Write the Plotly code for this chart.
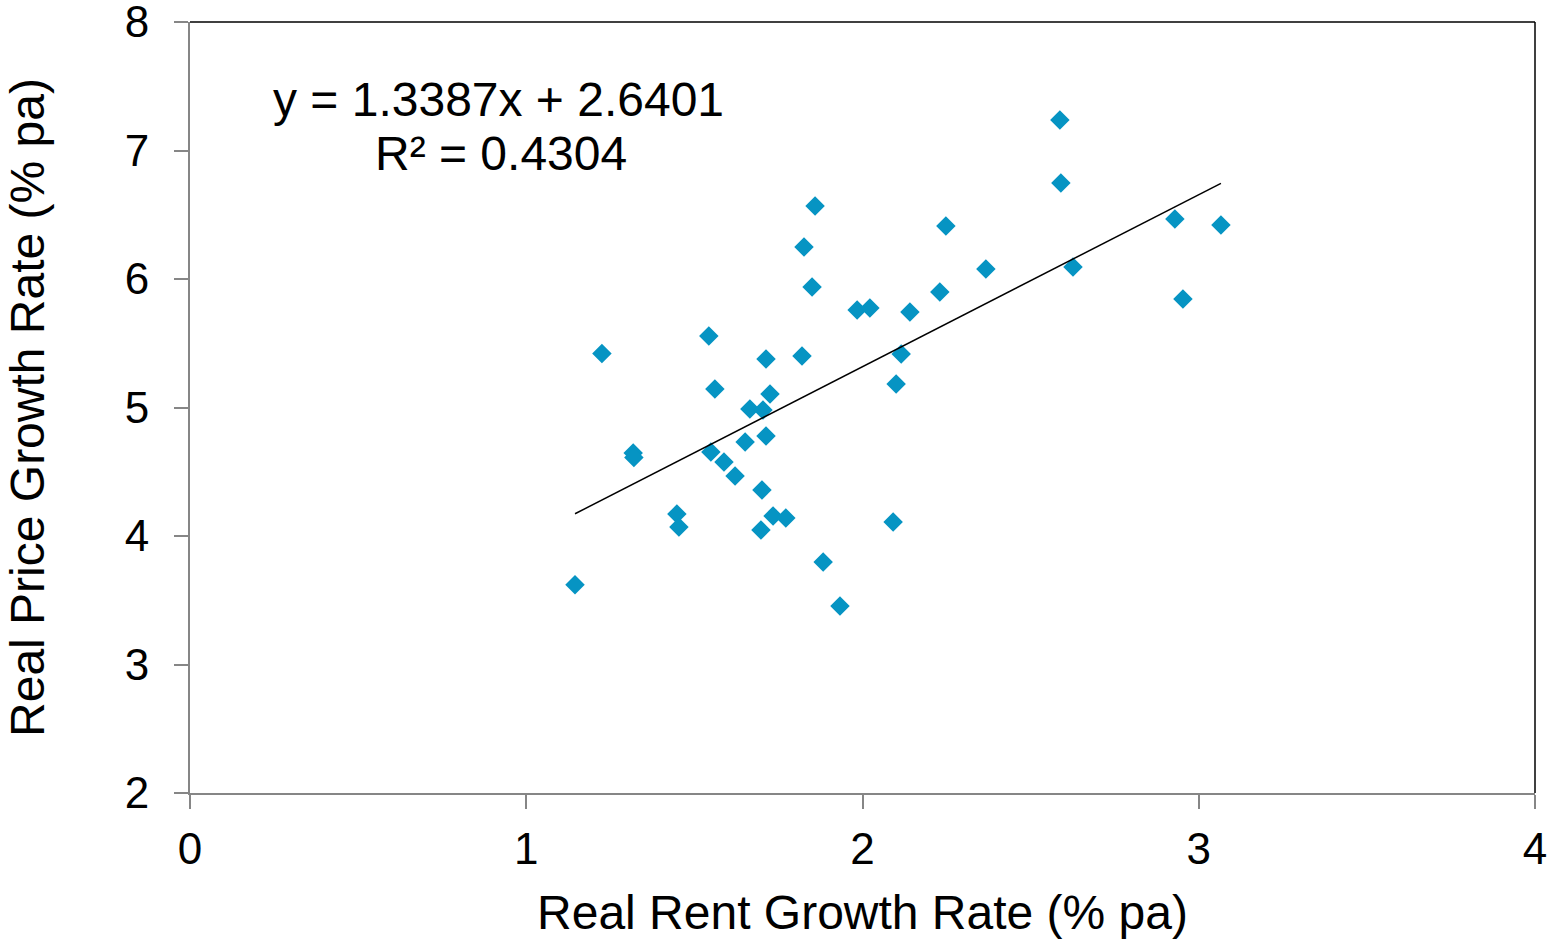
import plotly.graph_objects as go

rent_growth = [1.145, 1.225, 1.318, 1.320, 1.448, 1.454, 1.543, 1.549, 1.561, 1.588,
               1.621, 1.651, 1.665, 1.704, 1.701, 1.713, 1.713, 1.725, 1.698, 1.734,
               1.772, 1.820, 1.826, 1.850, 1.859, 1.883, 1.933, 1.984, 2.022, 2.091,
               2.100, 2.115, 2.141, 2.230, 2.248, 2.367, 2.587, 2.590, 2.626, 2.929,
               2.953, 3.066]
price_growth = [3.62, 5.42, 4.645, 4.61, 4.171, 4.07, 5.556, 4.654, 5.144, 4.576,
                4.467, 4.732, 4.988, 4.981, 4.358, 4.778, 5.377, 5.105, 4.047, 4.156,
                4.140, 5.401, 6.249, 5.938, 6.568, 3.798, 3.455, 5.759, 5.774, 4.109,
                5.183, 5.416, 5.743, 5.899, 6.412, 6.078, 7.237, 6.747, 6.093, 6.467,
                5.844, 6.420]

slope = 1.3387
intercept = 2.6401
r_squared = 0.4304

x_ticks = [0, 1, 2, 3, 4]
y_ticks = [2, 3, 4, 5, 6, 7, 8]

FONT = "Liberation Sans, Arial, sans-serif"

x_min, x_max = min(rent_growth), max(rent_growth)
trend_x = [x_min, x_max]
trend_y = [slope * v + intercept for v in trend_x]

fig = go.Figure()
fig.add_trace(go.Scatter(
    x=rent_growth, y=price_growth, mode="markers",
    marker=dict(symbol="diamond", size=15, color="#0694C3", line=dict(width=0)),
    showlegend=False, cliponaxis=False,
))
fig.add_trace(go.Scatter(
    x=trend_x, y=trend_y, mode="lines",
    line=dict(color="black", width=1.5), showlegend=False,
))

fig.add_annotation(
    x=0.2297, y=0.900, xref="paper", yref="paper",
    text=f"y = {slope}x + {intercept}",
    showarrow=False, xanchor="center", yanchor="middle",
    font=dict(family=FONT, size=48, color="black"),
)
fig.add_annotation(
    x=0.2312, y=0.829, xref="paper", yref="paper",
    text=f"R² = {r_squared}",
    showarrow=False, xanchor="center", yanchor="middle",
    font=dict(family=FONT, size=48, color="black"),
)

fig.update_xaxes(
    range=[0, 4], tickvals=x_ticks, ticktext=[str(t) for t in x_ticks],
    showline=True, linecolor="#868686", linewidth=2, mirror=False,
    ticks="outside", ticklen=14, tickcolor="#868686", tickwidth=2,
    showgrid=False, zeroline=False, automargin=False, ticklabeloverflow="allow",
    ticklabelstandoff=2,
    tickfont=dict(family=FONT, size=44, color="black"),
    title=dict(text="Real Rent Growth Rate (% pa)", font=dict(family=FONT, size=48, color="black"), standoff=24),
)
fig.update_yaxes(
    range=[2, 8], tickvals=y_ticks, ticktext=[str(t) for t in y_ticks],
    showline=True, linecolor="#868686", linewidth=2, mirror=False,
    ticks="outside", ticklen=14, tickcolor="#868686", tickwidth=2,
    showgrid=False, zeroline=False, automargin=False, ticklabeloverflow="allow",
    ticklabelstandoff=16,
    tickfont=dict(family=FONT, size=44, color="black"),
    title=dict(text="Real Price Growth Rate (% pa)", font=dict(family=FONT, size=48, color="black"), standoff=65),
)

# top and right border in black
fig.add_shape(type="line", xref="paper", yref="paper", x0=0, x1=1, y0=1, y1=1,
              line=dict(color="black", width=1.5))
fig.add_shape(type="line", xref="paper", yref="paper", x0=1, x1=1, y0=0, y1=1,
              line=dict(color="black", width=1.5))

fig.update_layout(
    width=1550, height=939,
    margin=dict(l=190, r=15, t=22, b=146, autoexpand=False),
    plot_bgcolor="white", paper_bgcolor="white",
    font=dict(family=FONT, color="black"),
)

fig.write_html(
    "out.html",
    config={"displayModeBar": False},
    post_script="document.body.style.margin='0';document.body.style.overflow='hidden';",
)
